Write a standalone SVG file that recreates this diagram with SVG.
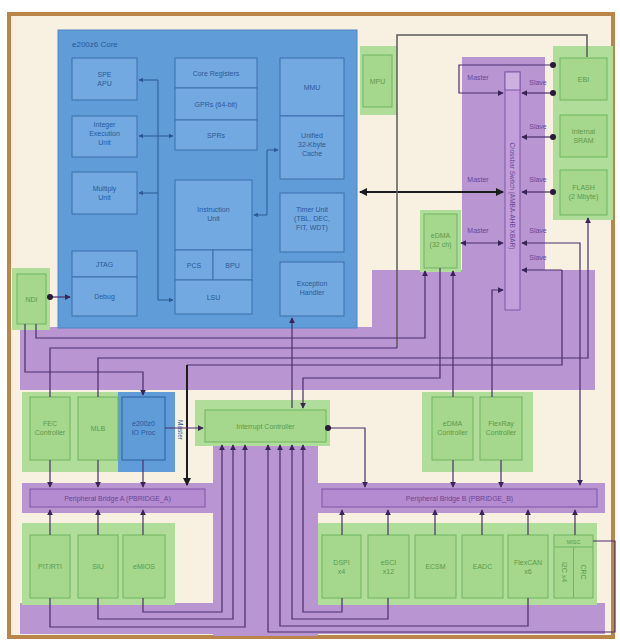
<svg xmlns="http://www.w3.org/2000/svg" width="620" height="644" viewBox="0 0 620 644">
<defs>
<style>
.frame{fill:#f8f1e1;stroke:#b98549;stroke-width:4}
.core{fill:#5f9cd8;stroke:#4d86c4;stroke-width:1}
.cb{fill:#72a9e0;stroke:#3d6fae;stroke-width:1}
.halo{fill:#b0de9a}
.gb{fill:#a5d78d;stroke:#6fb55e;stroke-width:1}
.bb{fill:#5f9cd8;stroke:#2e5f9f;stroke-width:1}
.pu{fill:#b995d2}
.pb{fill:#b48bd0;stroke:#7e55a6;stroke-width:1}
.xb{fill:#c29fdb;stroke:#8058a8;stroke-width:1}
.t{font-family:"Liberation Sans",Arial,sans-serif;font-size:7px;text-anchor:middle}
.tb{fill:#2a5a98}
.tg{fill:#5c9a4c}
.tp{fill:#6b4596}
.ln{fill:none;stroke:#4a2e6c;stroke-width:1.2}
.lb{fill:none;stroke:#2d5a92;stroke-width:1}
.lk{fill:none;stroke:#1c1c1c;stroke-width:2}
.lg{fill:none;stroke:#5a5a5a;stroke-width:1.5}
</style>
<marker id="ah" viewBox="0 0 8 8" refX="7" refY="4" markerUnits="userSpaceOnUse" markerWidth="6" markerHeight="6" orient="auto-start-reverse"><path d="M0,0 L8,4 L0,8 z" fill="#3a2456"/></marker>
<marker id="ahb" viewBox="0 0 8 8" refX="7" refY="4" markerUnits="userSpaceOnUse" markerWidth="5" markerHeight="5" orient="auto-start-reverse"><path d="M0,0 L8,4 L0,8 z" fill="#2d5a92"/></marker>
<marker id="ahk" viewBox="0 0 8 8" refX="7" refY="4" markerUnits="userSpaceOnUse" markerWidth="8" markerHeight="8" orient="auto-start-reverse"><path d="M0,0 L8,4 L0,8 z" fill="#1c1c1c"/></marker>
<marker id="dot" viewBox="0 0 6 6" refX="3" refY="3" markerUnits="userSpaceOnUse" markerWidth="6" markerHeight="6"><circle cx="3" cy="3" r="3" fill="#2a1a3a"/></marker>
</defs>

<rect x="0" y="0" width="620" height="644" fill="#ffffff"/>
<rect class="frame" x="9" y="14" width="604" height="623"/>

<!-- purple areas -->
<g id="purple-areas">
<rect class="pu" x="462" y="57" width="83" height="215"/>
<path class="pu" d="M20,327 L372,327 L372,270 L595,270 L595,390 L20,390 Z"/>
<rect class="pu" x="22" y="483" width="193" height="30"/>
<rect class="pu" x="310" y="483" width="295" height="30"/>
<rect class="pu" x="213" y="446" width="105" height="190"/>
<rect class="pu" x="20" y="603" width="585" height="31"/>
</g>

<!-- core -->
<g id="core">
<rect class="core" x="58" y="30" width="299" height="298"/>
<text class="t tb" x="72" y="47" style="text-anchor:start;font-size:8px">e200z6 Core</text>
</g>
<g id="spe-apu"><rect class="cb" x="72" y="58" width="65" height="42"/><text class="t tb" x="104.5" y="77">SPE<tspan x="104.5" dy="9">APU</tspan></text></g>
<g id="integer-unit"><rect class="cb" x="72" y="116" width="65" height="41"/><text class="t tb" x="104.5" y="127">Integer<tspan x="104.5" dy="9">Execution</tspan><tspan x="104.5" dy="9">Unit</tspan></text></g>
<g id="multiply-unit"><rect class="cb" x="72" y="172" width="65" height="42"/><text class="t tb" x="104.5" y="191">Multiply<tspan x="104.5" dy="9">Unit</tspan></text></g>
<g id="jtag"><rect class="cb" x="72" y="251" width="65" height="26"/><text class="t tb" x="104.5" y="267">JTAG</text></g>
<g id="debug"><rect class="cb" x="72" y="277" width="65" height="39"/><text class="t tb" x="104.5" y="299">Debug</text></g>
<g id="core-registers"><rect class="cb" x="175" y="58" width="82" height="30"/><text class="t tb" x="216" y="76">Core Registers</text></g>
<g id="gprs"><rect class="cb" x="175" y="88" width="82" height="32"/><text class="t tb" x="216" y="107">GPRs (64-bit)</text></g>
<g id="sprs"><rect class="cb" x="175" y="120" width="82" height="30"/><text class="t tb" x="216" y="138">SPRs</text></g>
<g id="instruction-unit"><rect class="cb" x="175" y="180" width="77" height="70"/><text class="t tb" x="213.5" y="212">Instruction<tspan x="213.5" dy="9">Unit</tspan></text></g>
<g id="pcs"><rect class="cb" x="175" y="250" width="38" height="30"/><text class="t tb" x="194" y="268">PCS</text></g>
<g id="bpu"><rect class="cb" x="213" y="250" width="39" height="30"/><text class="t tb" x="232.5" y="268">BPU</text></g>
<g id="lsu"><rect class="cb" x="175" y="280" width="77" height="34"/><text class="t tb" x="213.5" y="300">LSU</text></g>
<g id="mmu"><rect class="cb" x="280" y="58" width="64" height="58"/><text class="t tb" x="312" y="90">MMU</text></g>
<g id="cache"><rect class="cb" x="280" y="116" width="64" height="63"/><text class="t tb" x="312" y="138">Unified<tspan x="312" dy="9">32-Kbyte</tspan><tspan x="312" dy="9">Cache</tspan></text></g>
<g id="timer-unit"><rect class="cb" x="280" y="193" width="64" height="59"/><text class="t tb" x="312" y="212">Timer Unit<tspan x="312" dy="9">(TBL, DEC,</tspan><tspan x="312" dy="9">FIT, WDT)</tspan></text></g>
<g id="exception-handler"><rect class="cb" x="280" y="262" width="64" height="54"/><text class="t tb" x="312" y="286">Exception<tspan x="312" dy="9">Handler</tspan></text></g>

<!-- green nodes -->
<g id="ndi"><rect class="halo" x="12" y="268" width="38" height="62"/><rect class="gb" x="17" y="274" width="29" height="50"/><text class="t tg" x="31.5" y="302">NDI</text></g>
<g id="mpu"><rect class="halo" x="360" y="46" width="37" height="69"/><rect class="gb" x="363" y="55" width="29" height="52"/><text class="t tg" x="377.5" y="84">MPU</text></g>
<g id="right-memories"><rect class="halo" x="553" y="46" width="60" height="174"/></g>
<g id="ebi"><rect class="gb" x="560" y="58" width="47" height="42"/><text class="t tg" x="583.5" y="82">EBI</text></g>
<g id="internal-sram"><rect class="gb" x="560" y="115" width="47" height="42"/><text class="t tg" x="583.5" y="134">Internal<tspan x="583.5" dy="9">SRAM</tspan></text></g>
<g id="flash"><rect class="gb" x="560" y="170" width="47" height="45"/><text class="t tg" x="583.5" y="190">FLASH<tspan x="583.5" dy="9">(2 Mbyte)</tspan></text></g>
<g id="edma"><rect class="halo" x="420" y="210" width="41" height="62"/><rect class="gb" x="424" y="214" width="33" height="54"/><text class="t tg" x="440.5" y="238">eDMA<tspan x="440.5" dy="9">(32 ch)</tspan></text></g>

<g id="crossbar"><rect class="xb" x="505" y="72" width="15" height="238"/><rect class="xb" x="505" y="72" width="15" height="18" style="fill:#cdb0e0"/><text class="t tp" transform="translate(512.5,196) rotate(90)" style="font-size:6.5px" dy="2.3">Crossbar Switch (AMBA-AHB XBAR)</text></g>

<g id="left-masters"><rect class="halo" x="22" y="392" width="98" height="80"/><rect x="118" y="392" width="57" height="80" fill="#5f9cd8"/></g>
<g id="fec"><rect class="gb" x="30" y="397" width="40" height="63"/><text class="t tg" x="50" y="426">FEC<tspan x="50" dy="9">Controller</tspan></text></g>
<g id="mlb"><rect class="gb" x="78" y="397" width="40" height="63"/><text class="t tg" x="98" y="431">MLB</text></g>
<g id="e200z0"><rect class="bb" x="122" y="397" width="43" height="63"/><text class="t tb" x="143.5" y="426">e200z0<tspan x="143.5" dy="9">IO Proc</tspan></text></g>

<g id="interrupt-controller"><rect class="halo" x="195" y="400" width="135" height="46"/><rect class="gb" x="205" y="410" width="121" height="32"/><text class="t tg" x="265.5" y="429">Interrupt Controller</text></g>

<g id="right-masters"><rect class="halo" x="422" y="392" width="111" height="80"/></g>
<g id="edma-controller"><rect class="gb" x="432" y="397" width="41" height="63"/><text class="t tg" x="452.5" y="426">eDMA<tspan x="452.5" dy="9">Controller</tspan></text></g>
<g id="flexray-controller"><rect class="gb" x="480" y="397" width="42" height="63"/><text class="t tg" x="501" y="426">FlexRay<tspan x="501" dy="9">Controller</tspan></text></g>

<g id="pbridge-a"><rect class="pb" x="30" y="489" width="175" height="18"/><text class="t tp" x="117.5" y="500.5">Peripheral Bridge A (PBRIDGE_A)</text></g>
<g id="pbridge-b"><rect class="pb" x="322" y="489" width="275" height="18"/><text class="t tp" x="459.5" y="500.5">Peripheral Bridge B (PBRIDGE_B)</text></g>

<g id="left-peripherals"><rect class="halo" x="22" y="523" width="153" height="82"/></g>
<g id="pit"><rect class="gb" x="30" y="535" width="40" height="63"/><text class="t tg" x="50" y="569">PIT/RTI</text></g>
<g id="siu"><rect class="gb" x="78" y="535" width="40" height="63"/><text class="t tg" x="98" y="569">SIU</text></g>
<g id="emios"><rect class="gb" x="123" y="535" width="42" height="63"/><text class="t tg" x="144" y="569">eMIOS</text></g>

<g id="right-peripherals"><rect class="halo" x="318" y="523" width="279" height="82"/></g>
<g id="dspi"><rect class="gb" x="322" y="535" width="39" height="63"/><text class="t tg" x="341.5" y="565">DSPI<tspan x="341.5" dy="9">x4</tspan></text></g>
<g id="esci"><rect class="gb" x="368" y="535" width="41" height="63"/><text class="t tg" x="388.5" y="565">eSCI<tspan x="388.5" dy="9">x12</tspan></text></g>
<g id="ecsm"><rect class="gb" x="415" y="535" width="41" height="63"/><text class="t tg" x="435.5" y="569">ECSM</text></g>
<g id="adc"><rect class="gb" x="462" y="535" width="41" height="63"/><text class="t tg" x="482.5" y="569">EADC</text></g>
<g id="flexcan"><rect class="gb" x="508" y="535" width="40" height="63"/><text class="t tg" x="528" y="565">FlexCAN<tspan x="528" dy="9">x6</tspan></text></g>
<g id="misc"><rect class="gb" x="554" y="535" width="39" height="63"/><line x1="554" y1="547" x2="593" y2="547" stroke="#6fb55e"/><line x1="573.5" y1="547" x2="573.5" y2="598" stroke="#6fb55e"/><text class="t tg" x="573.5" y="543.5" style="font-size:5.5px">MISC</text><text class="t tg" transform="translate(564,572) rotate(90)" dy="2">I2C x4</text><text class="t tg" transform="translate(583,572) rotate(90)" dy="2">CRC</text></g>

<!-- connectors -->
<g id="connectors">
<path class="lb" d="M158,80 L158,300 L173,300" marker-end="url(#ahb)"/>
<path class="lb" d="M158,80 L139,80" marker-end="url(#ahb)"/>
<path class="lb" d="M158,136 L139,136" marker-end="url(#ahb)"/>
<path class="lb" d="M158,136 L173,136" marker-end="url(#ahb)"/>
<path class="lb" d="M158,193 L139,193" marker-end="url(#ahb)"/>
<path class="lb" d="M267,150 L278,150" marker-end="url(#ahb)"/>
<path class="lb" d="M267,150 L267,215 L254,215" marker-end="url(#ahb)"/>
<path class="ln" d="M50,297 L70,297" marker-start="url(#dot)" marker-end="url(#ah)"/>

<path class="ln" d="M553,65 L459,65 L459,93 L503,93" marker-start="url(#dot)" marker-end="url(#ah)"/>
<path class="ln" d="M553,93 L522,93" marker-start="url(#dot)" marker-end="url(#ah)"/>
<path class="ln" d="M553,137 L522,137" marker-start="url(#dot)" marker-end="url(#ah)"/>
<path class="ln" d="M553,192 L522,192" marker-start="url(#dot)" marker-end="url(#ah)"/>
<path class="lk" d="M360,192 L503,192" marker-start="url(#ahk)" marker-end="url(#ahk)"/>
<path class="ln" d="M461,243 L503,243" marker-start="url(#ah)" marker-end="url(#ah)"/>
<path class="ln" d="M580,485 L580,243 L522,243" marker-start="url(#ah)" marker-end="url(#ah)"/>
<path class="ln" d="M562,270 L522,270" marker-end="url(#ah)"/>
<path class="ln" d="M562,270 L562,365 L187,365"/>
<path class="lk" d="M187,365 L187,485" marker-end="url(#ahk)"/>
<path class="ln" d="M492,397 L492,290 L503,290" marker-end="url(#ah)"/>

<text class="t tp" x="478" y="80">Master</text>
<text class="t tp" x="538" y="85">Slave</text>
<text class="t tp" x="538" y="129">Slave</text>
<text class="t tp" x="478" y="182">Master</text>
<text class="t tp" x="538" y="182">Slave</text>
<text class="t tp" x="478" y="233">Master</text>
<text class="t tp" x="538" y="233">Slave</text>
<text class="t tp" x="538" y="260">Slave</text>
<text class="t tb" transform="translate(180,430) rotate(90)" dy="2" style="font-size:6.5px">Master</text>

<path class="lg" d="M397,348 L397,35 L587,35 L587,57"/>
<path class="ln" d="M50,397 L50,348 L397,348"/>
<path class="ln" d="M36,324 L36,338 L425,338 L425,271" marker-end="url(#ah)"/>
<path class="ln" d="M25,324 L25,372 L143,372 L143,395" marker-end="url(#ah)"/>
<path class="ln" d="M98,397 L98,358 L588,358 L588,218" marker-end="url(#ah)"/>
<path class="ln" d="M440,268 L440,378 L303,378 L303,408" marker-end="url(#ah)"/>
<path class="ln" d="M453,397 L453,271" marker-end="url(#ah)"/>
<path class="ln" d="M292,408 L292,318" marker-end="url(#ah)"/>

<path class="ln" d="M50,460 L50,487" marker-end="url(#ah)"/>
<path class="ln" d="M98,460 L98,487" marker-end="url(#ah)"/>
<path class="ln" d="M143,460 L143,487" marker-end="url(#ah)"/>
<path class="ln" d="M165,428 L203,428" marker-end="url(#ah)"/>
<path class="ln" d="M50,535 L50,510" marker-end="url(#ah)"/>
<path class="ln" d="M98,535 L98,510" marker-end="url(#ah)"/>
<path class="ln" d="M143,535 L143,510" marker-end="url(#ah)"/>
<path class="ln" d="M328,428 L365,428 L365,487" marker-start="url(#dot)" marker-end="url(#ah)"/>
<path class="ln" d="M453,460 L453,487" marker-end="url(#ah)"/>
<path class="ln" d="M501,460 L501,487" marker-end="url(#ah)"/>
<path class="ln" d="M342,535 L342,510" marker-end="url(#ah)"/>
<path class="ln" d="M388,535 L388,510" marker-end="url(#ah)"/>
<path class="ln" d="M435,535 L435,510" marker-end="url(#ah)"/>
<path class="ln" d="M482,535 L482,510" marker-end="url(#ah)"/>
<path class="ln" d="M528,535 L528,510" marker-end="url(#ah)"/>
<path class="ln" d="M575,535 L575,510" marker-end="url(#ah)"/>

<path class="ln" d="M143,598 L143,612 L222,612 L222,445" marker-end="url(#ah)"/>
<path class="ln" d="M98,598 L98,619 L233,619 L233,445" marker-end="url(#ah)"/>
<path class="ln" d="M50,598 L50,627 L245,627 L245,445" marker-end="url(#ah)"/>
<path class="ln" d="M593,541 L615,541 L615,632 L268,632 L268,445" marker-end="url(#ah)"/>
<path class="ln" d="M528,598 L528,626 L280,626 L280,445" marker-end="url(#ah)"/>
<path class="ln" d="M388,598 L388,619 L292,619 L292,445" marker-end="url(#ah)"/>
<path class="ln" d="M342,598 L342,612 L303,612 L303,445" marker-end="url(#ah)"/>
</g>
</svg>
